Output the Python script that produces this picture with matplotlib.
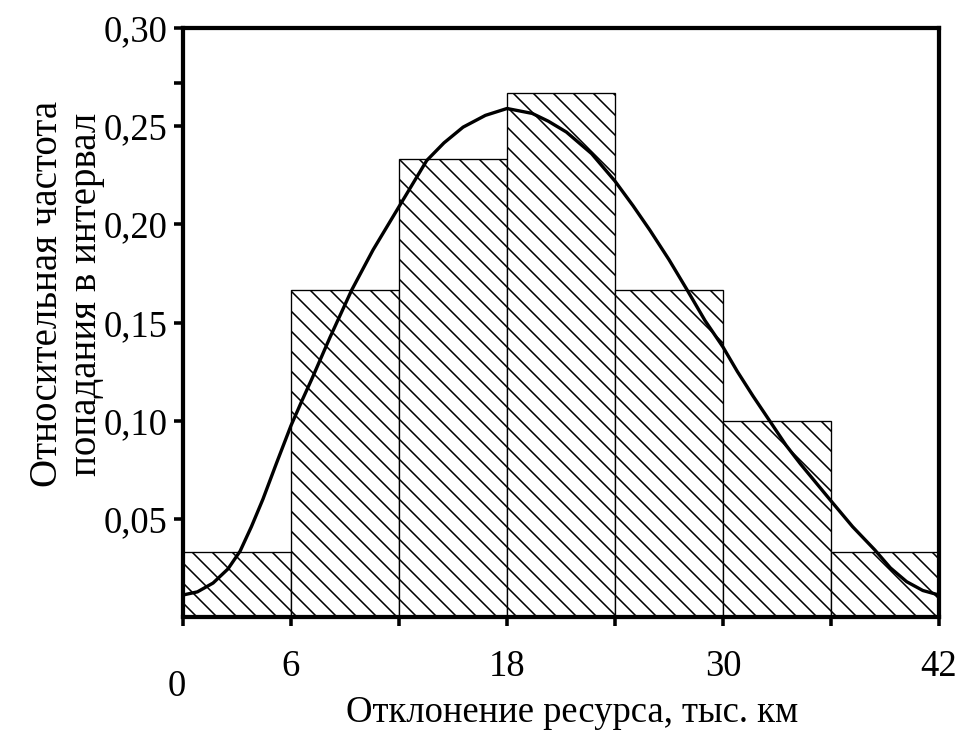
import matplotlib
matplotlib.use("Agg")
import matplotlib.pyplot as plt
import matplotlib.transforms as mtransforms

DPI = 120
K = 80 / DPI  # sizes below were tuned in points at 80 dpi

plt.rcParams['font.family'] = ['Liberation Serif', 'DejaVu Serif']
plt.rcParams['hatch.linewidth'] = 1.4 * K

# --- data ---
bin_edges = [0, 6, 12, 18, 24, 30, 36]
bin_width = 6
rel_freq = [1/30, 5/30, 7/30, 8/30, 5/30, 3/30, 1/30]

curve_x = [0.0, 0.8, 1.67, 2.5, 3.17, 3.8, 4.44, 5.2, 6.0, 6.6, 7.17, 8.17,
           9.37, 10.56, 12.0, 13.54, 14.5, 15.56, 16.8, 18.0, 19.4, 20.3,
           21.3, 22.7, 24.0, 25.0, 25.94, 27.0, 27.98, 29.0, 30.0, 30.8,
           31.67, 32.6, 33.5, 34.3, 35.2, 36.04, 37.2, 38.44, 39.3, 40.2,
           41.1, 42.0]
curve_y = [0.0112, 0.0128, 0.0173, 0.0245, 0.0335, 0.046, 0.060, 0.0785,
           0.0975, 0.110, 0.1215, 0.1425, 0.1665, 0.187, 0.209, 0.2325,
           0.2415, 0.2495, 0.2555, 0.259, 0.2565, 0.2525, 0.247, 0.236,
           0.222, 0.2095, 0.197, 0.182, 0.167, 0.151, 0.1375, 0.125, 0.1125,
           0.0998, 0.0875, 0.078, 0.068, 0.0587, 0.046, 0.0341, 0.025, 0.018,
           0.0135, 0.0112]

x_ticks = [0, 6, 12, 18, 24, 30, 36, 42]
x_labels = ['0', '6', '', '18', '', '30', '', '42']
y_ticks = [0.05, 0.10, 0.15, 0.20, 0.25, 0.272, 0.30]
y_labels = ['0,05', '0,10', '0,15', '0,20', '0,25', '', '0,30']

fig = plt.figure(figsize=(961/DPI, 731/DPI), dpi=DPI)
ax = fig.add_axes([183/961, 1 - 617/731, 756/961, 589/731])

ax.bar(bin_edges, rel_freq, width=bin_width, align='edge', color='white',
       edgecolor='black', linewidth=1.2 * K, hatch='\\\\', zorder=2)
ax.plot(curve_x, curve_y, color='black', linewidth=3.0 * K, zorder=3,
        solid_joinstyle='round')

ax.set_xlim(0, 42)
ax.set_ylim(0, 0.30)

for s in ax.spines.values():
    s.set_linewidth(3.8 * K)
    s.set_zorder(4)

ax.set_xticks(x_ticks)
ax.set_xticklabels(x_labels)
ax.set_yticks(y_ticks)
ax.set_yticklabels(y_labels)
ax.tick_params(axis='both', direction='out', length=8 * K, width=3.2 * K,
               labelsize=33 * K)
ax.tick_params(axis='x', pad=21 * K)
ax.tick_params(axis='y', pad=6 * K)

# the "0" label sits a bit lower and to the left in the reference
lbl0 = ax.get_xticklabels()[0]
lbl0.set_transform(lbl0.get_transform() +
                   mtransforms.ScaledTranslation(-6/DPI, -20/DPI, fig.dpi_scale_trans))

fig.text(572/961, 1 - 713/731, 'Отклонение ресурса, тыс. км', fontsize=33 * K,
         ha='center', va='center')
fig.text(67/961, 1 - 294/731, 'Относительная частота\nпопадания в интервал',
         fontsize=35 * K, rotation=90, ha='center', va='center',
         multialignment='center', linespacing=1.1)

fig.savefig('out.png', dpi=DPI)
